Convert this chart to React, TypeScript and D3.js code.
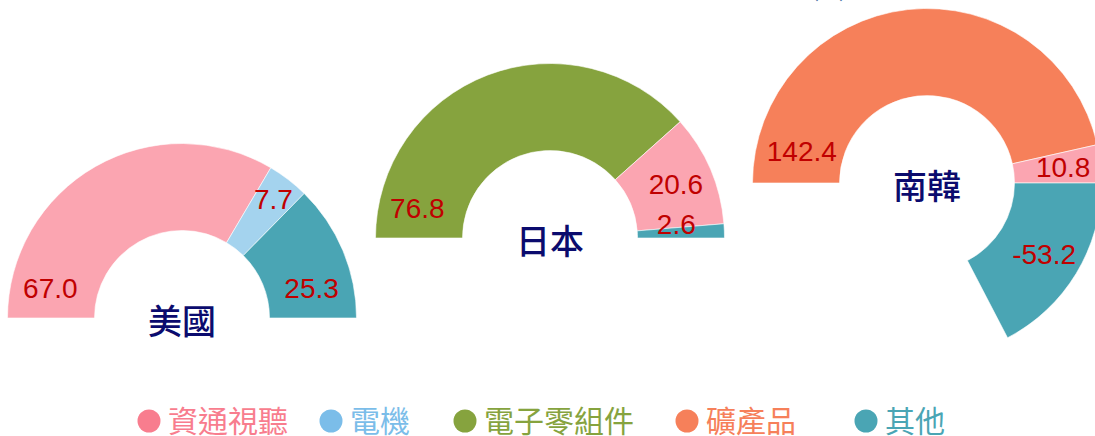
import React from "react";
import * as d3 from "d3";

// ---- data ----
const categories = ["資通視聽", "電機", "電子零組件", "礦產品", "其他"];
const countries = ["美國", "日本", "南韓"];
const usaCats = ["資通視聽", "電機", "其他"];
const usaValues = [67.0, 7.7, 25.3];
const japanCats = ["電子零組件", "資通視聽", "其他"];
const japanValues = [76.8, 20.6, 2.6];
const koreaCats = ["礦產品", "資通視聽", "其他"];
const koreaValues = [142.4, 10.8, -53.2];
const unitLabel = "(%)";

// ---- styles / layout ----
const sliceColors: Record<string, string> = {
  "資通視聽": "#fba5b1",
  "電機": "#a4d3ee",
  "電子零組件": "#86a33e",
  "礦產品": "#f6805a",
  "其他": "#4aa5b4",
};
const legendColors: Record<string, string> = {
  "資通視聽": "#f87d8e",
  "電機": "#7bbde9",
  "電子零組件": "#86a33e",
  "礦產品": "#f6805a",
  "其他": "#4aa5b4",
};
const W = 1095, H = 436;
const outerR = 174.5, innerR = 87.5;
const centers = [[182, 318], [550, 238], [927, 183]];
const legendX = [149, 331, 465, 687, 866];
const legendY = 421;
// label angle overrides (degrees, ccw from 3 o'clock) and radii
const labelOverride: Record<string, { a?: number; r?: number }> = {
  "美國|資通視聽": { a: 167.2, r: 135 },
  "美國|電機": { r: 150 },
  "美國|其他": { a: 13, r: 133 },
  "日本|電子零組件": { a: 167.3, r: 136 },
  "日本|其他": { a: 5.9, r: 127 },
  "南韓|礦產品": { a: 166, r: 129 },
};

const seriesList = [
  { name: countries[0], cats: usaCats, values: usaValues },
  { name: countries[1], cats: japanCats, values: japanValues },
  { name: countries[2], cats: koreaCats, values: koreaValues },
];

export default function App() {
  const arc = d3.arc<any>().innerRadius(innerR).outerRadius(outerR);
  return (
    <svg
      width={W}
      height={H}
      style={{ position: "absolute", left: 0, top: 0, background: "#fff" }}
    >
      {seriesList.map((s, si) => {
        const [cx, cy] = centers[si];
        const hidden = d3.sum(s.values);
        const total = d3.sum(s.values, (v) => Math.abs(v)) + hidden;
        const scale = d3.scaleLinear().domain([0, total]).range([0, 2 * Math.PI]);
        let acc = 0;
        const slices = s.values.map((v, i) => {
          const start = -Math.PI / 2 + scale(acc);
          acc += Math.abs(v);
          const end = -Math.PI / 2 + scale(acc);
          return { cat: s.cats[i], v, start, end };
        });
        return (
          <g key={s.name} transform={`translate(${cx},${cy})`}>
            {slices.map((sl) => (
              <path
                key={sl.cat}
                d={arc({ startAngle: sl.start, endAngle: sl.end }) as string}
                fill={sliceColors[sl.cat]}
                stroke="#fff"
                strokeWidth={0.6}
              />
            ))}
            {slices.map((sl) => {
              const ov = labelOverride[s.name + "|" + sl.cat] || {};
              const midD3 = (sl.start + sl.end) / 2; // 0 at 12 o'clock, clockwise
              const midStd = ov.a !== undefined ? (ov.a * Math.PI) / 180 : Math.PI / 2 - midD3;
              const r = ov.r ?? 137;
              const x = r * Math.cos(midStd);
              const y = -r * Math.sin(midStd);
              return (
                <text
                  key={"l" + sl.cat}
                  x={x}
                  y={y}
                  textAnchor="middle"
                  dominantBaseline="central"
                  fontFamily="'Liberation Sans', Arial, sans-serif"
                  fontSize={28}
                  fill="#c00000"
                >
                  {sl.v.toFixed(1)}
                </text>
              );
            })}
            <text
              x={0}
              y={1}
              textAnchor="middle"
              dominantBaseline="central"
              fontFamily="'Noto Sans CJK TC', sans-serif"
              fontWeight={500}
              fontSize={34}
              fill="#0b0b6e"
            >
              {s.name}
            </text>
          </g>
        );
      })}
      <text
        x={829}
        y={-3}
        textAnchor="middle"
        fontFamily="'Noto Sans CJK TC', sans-serif"
        fontSize={22}
        fill="#5577aa"
      >
        {unitLabel}
      </text>
      {categories.map((c, i) => (
        <g key={c}>
          <circle cx={legendX[i]} cy={legendY} r={11.5} fill={legendColors[c]} />
          <text
            x={legendX[i] + 19}
            y={legendY - 2}
            dominantBaseline="central"
            fontFamily="'Noto Sans CJK TC', sans-serif"
            fontSize={30}
            fill={legendColors[c]}
          >
            {c}
          </text>
        </g>
      ))}
    </svg>
  );
}
